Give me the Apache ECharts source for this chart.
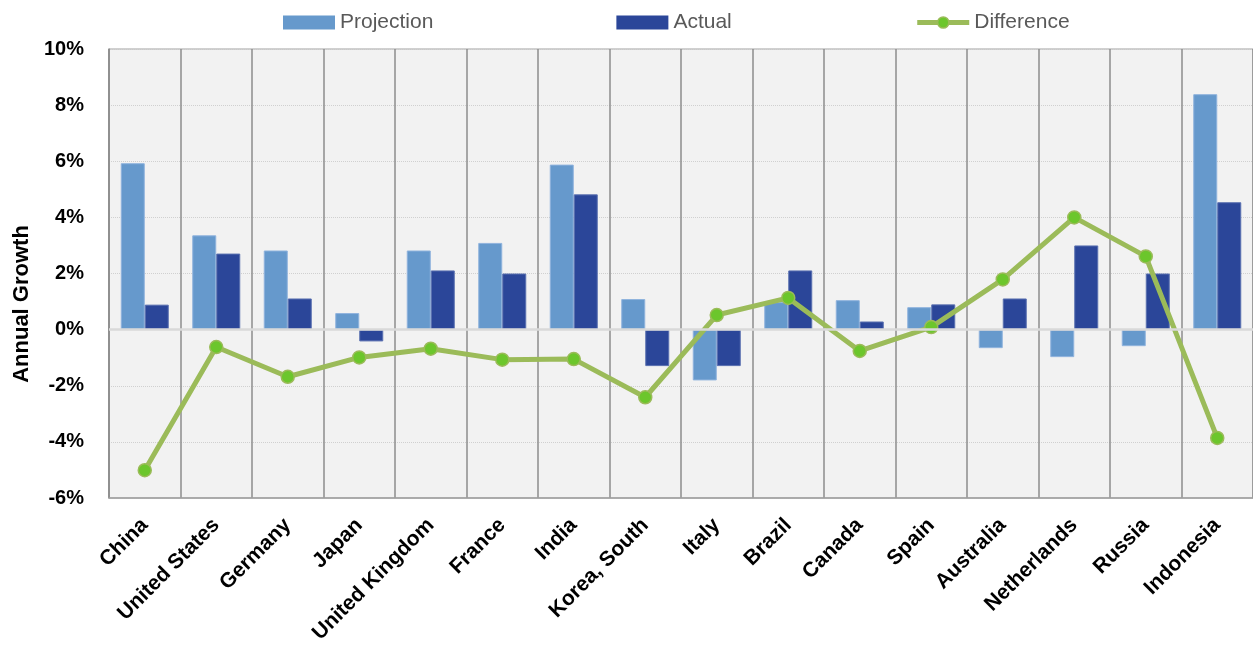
<!DOCTYPE html>
<html>
<head>
<meta charset="utf-8">
<script src="https://cdn.jsdelivr.net/npm/echarts@6/dist/echarts.min.js"></script>
<style>
  html, body { margin: 0; padding: 0; background: #fff; }
  #chart { width: 1253px; height: 650px; }
</style>
</head>
<body>
<div id="chart"></div>
<script>
// 数据
var countries = ['China', 'United States', 'Germany', 'Japan', 'United Kingdom', 'France', 'India',
  'Korea, South', 'Italy', 'Brazil', 'Canada', 'Spain', 'Australia', 'Netherlands', 'Russia', 'Indonesia'];
var projection = [5.93, 3.36, 2.82, 0.59, 2.82, 3.09, 5.88, 1.09, -1.81, 0.98, 1.05, 0.80, -0.66, -0.98, -0.59, 8.39];
var actual = [0.89, 2.71, 1.11, -0.42, 2.11, 2.00, 4.82, -1.30, -1.30, 2.11, 0.29, 0.90, 1.11, 3.00, 2.00, 4.54];
var difference = [-5.01, -0.62, -1.68, -0.99, -0.68, -1.07, -1.05, -2.41, 0.52, 1.13, -0.76, 0.09, 1.79, 4.00, 2.61, -3.86];

var font = '"Liberation Sans", Arial, sans-serif';

var myChart = echarts.init(document.getElementById('chart'));

var option = {
  animation: false,
  textStyle: { fontFamily: font },
  legend: {
    left: 278,
    top: 7,
    itemWidth: 52,
    itemHeight: 14,
    itemGap: 183,
    textStyle: { fontSize: 21, color: '#595959' },
    data: [
      { name: 'Projection', icon: 'rect', itemStyle: { borderWidth: 0 } },
      { name: 'Actual', icon: 'rect', itemStyle: { borderWidth: 0 } },
      { name: 'Difference', lineStyle: { width: 5 }, itemStyle: { borderWidth: 1.5 } }
    ]
  },
  grid: {
    left: 109,
    right: 0,
    top: 49,
    bottom: 152,
    outerBoundsMode: 'none',
    show: true,
    backgroundColor: '#f2f2f2',
    borderColor: '#a0a0a0',
    borderWidth: 1
  },
  graphic: [{
    type: 'text',
    x: 22,
    y: 304,
    rotation: Math.PI / 2,
    style: {
      text: 'Annual Growth',
      fontSize: 22,
      fontWeight: 'bold',
      fill: '#000',
      fontFamily: font,
      align: 'center',
      verticalAlign: 'middle'
    }
  }],
  xAxis: {
    type: 'category',
    data: countries,
    axisLine: { onZero: false, lineStyle: { color: '#a0a0a0', width: 1.5 } },
    axisTick: { show: false },
    splitLine: { show: true, lineStyle: { color: '#8c8c8c', width: 1.5 } },
    axisLabel: {
      interval: 0,
      rotate: 45,
      margin: 24,
      fontSize: 21,
      fontWeight: 'bold',
      color: '#000'
    }
  },
  yAxis: {
    type: 'value',
    min: -6,
    max: 10,
    interval: 2,
    axisLine: { show: true, lineStyle: { color: '#8c8c8c', width: 1.5 } },
    axisTick: { show: false },
    splitLine: { lineStyle: { color: '#d0d0d0', type: 'dotted', width: 1 } },
    axisLabel: {
      formatter: '{value}%',
      margin: 25,
      fontSize: 20,
      fontWeight: 'bold',
      color: '#000'
    }
  },
  series: [{
    name: 'Projection',
    type: 'bar',
    data: projection,
    barWidth: 24,
    barGap: '0%',
    itemStyle: { color: '#6699cc', borderColor: '#8fb3dd', borderWidth: 1 },
    markLine: {
      silent: true,
      symbol: 'none',
      label: { show: false },
      lineStyle: { color: '#d9d9d9', type: 'solid', width: 2.5 },
      data: [{ yAxis: 0 }]
    }
  }, {
    name: 'Actual',
    type: 'bar',
    data: actual,
    barWidth: 24,
    itemStyle: { color: '#2b4699', borderColor: '#5a70b0', borderWidth: 1 }
  }, {
    name: 'Difference',
    type: 'line',
    data: difference,
    symbol: 'circle',
    symbolSize: 13,
    lineStyle: { color: '#9bbb59', width: 5 },
    itemStyle: { color: '#6cc62c', borderColor: '#9bbb59', borderWidth: 1.5 }
  }]
};

myChart.setOption(option);
</script>
</body>
</html>
